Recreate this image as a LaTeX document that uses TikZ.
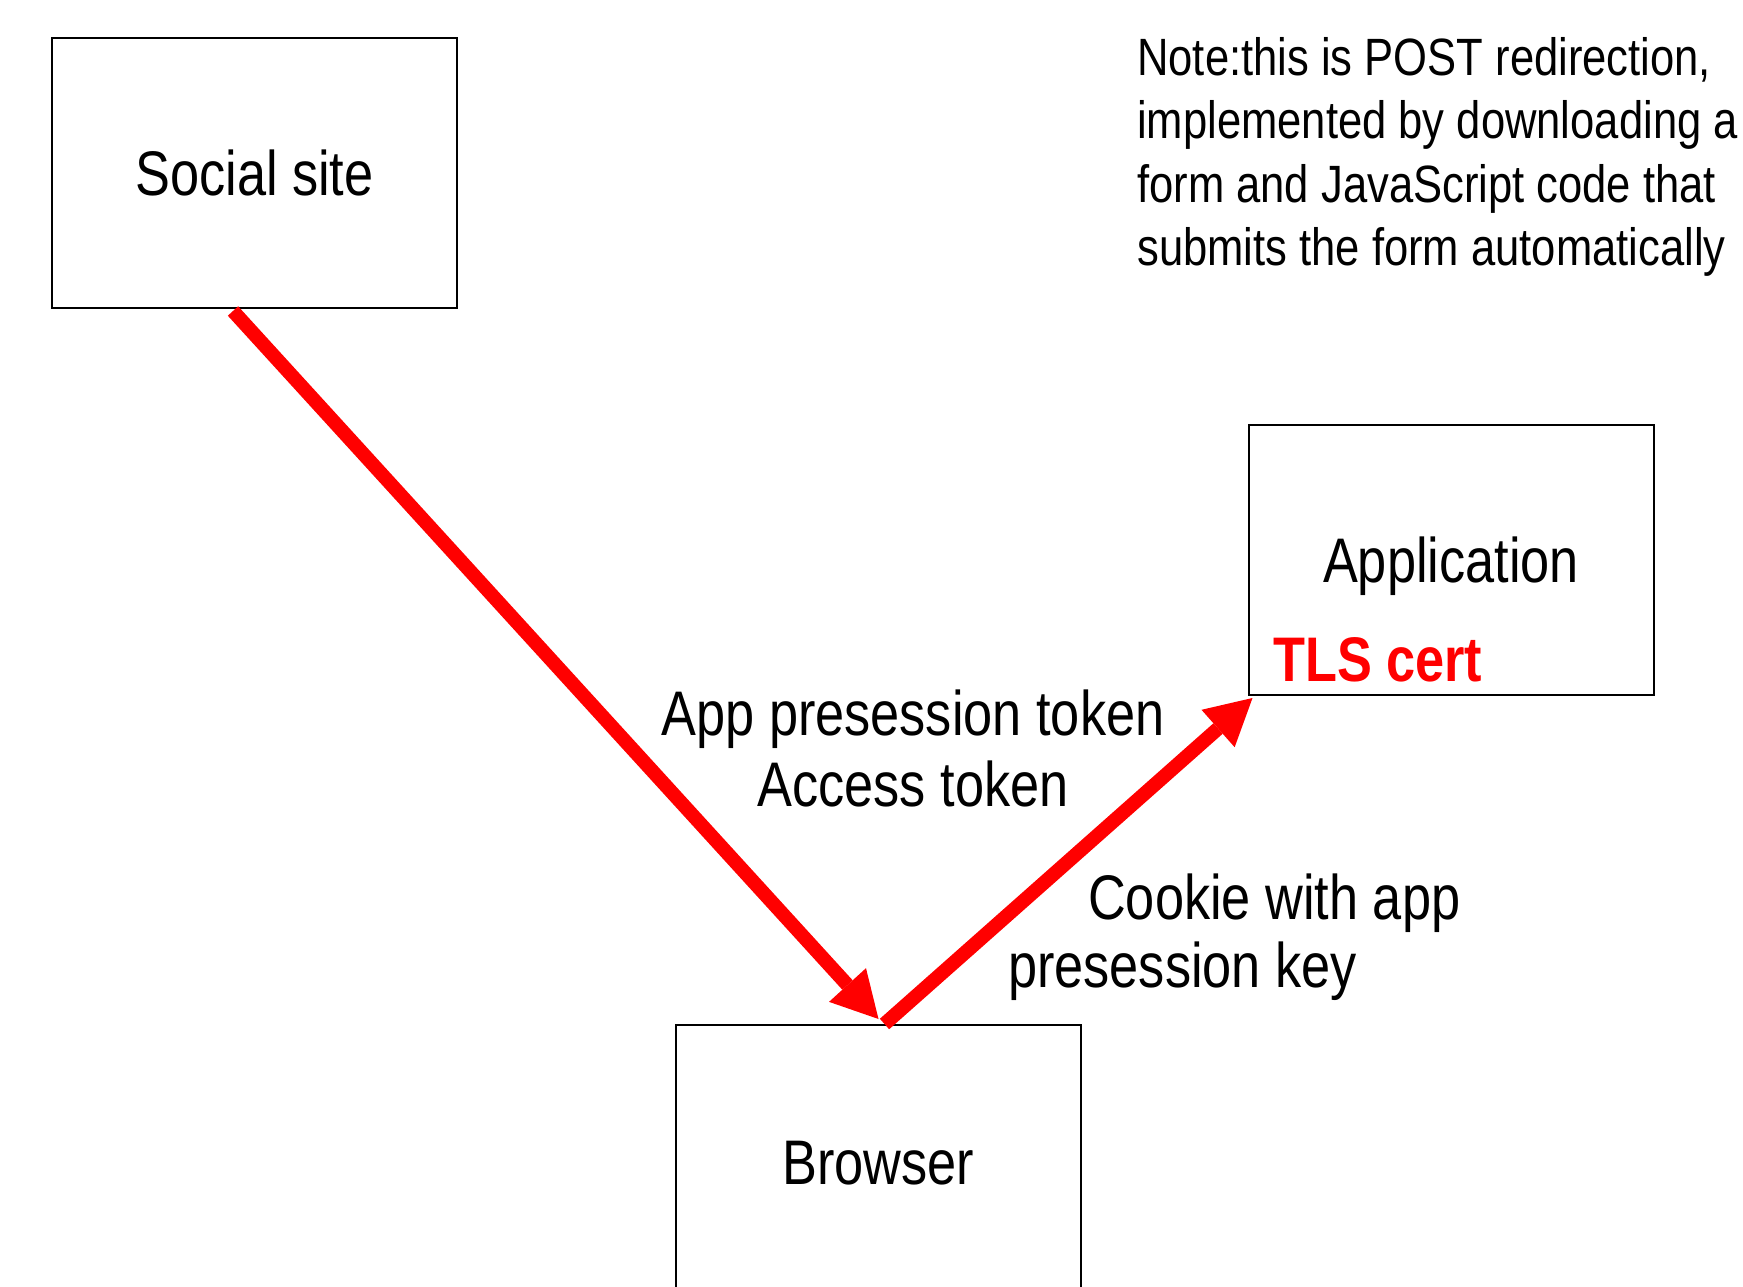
\documentclass[tikz,border=0pt]{standalone}
\usepackage{fontspec}
\setmainfont[FakeStretch=0.83]{Liberation Sans}
\usetikzlibrary{arrows.meta}
\begin{document}
\begin{tikzpicture}[x=1pt,y=-1pt,
  box/.style={draw=black, line width=2pt, minimum width=405pt, minimum height=270pt,
    inner sep=0pt, text depth=0pt, font=\fontsize{63}{72}\selectfont},
  lbl/.style={inner sep=0pt, font=\fontsize{63}{72}\selectfont},
  flow/.style={draw=red, line width=14pt,
    -{Triangle[length=46pt,width=50pt,line width=0pt]}}]
\clip (0,0) rectangle (1743,1287);
\fill[white] (0,0) rectangle (1743,1287);
\node[box] (social) at (254.5,173) {Social site};
\node[box] (app) at (1451,560) {Application};
\node[box] (browser) at (878.5,1160) {\raisebox{-5pt}{Browser}};
\node[lbl, anchor=base west, text=red, font=\fontsize{63}{72}\selectfont\bfseries] (tls) at (1273,681) {TLS cert};
\node[lbl, anchor=north, align=center, font=\fontsize{63}{71}\selectfont] (tokens) at (913,690) {App presession token\\Access token};
\node[lbl, anchor=north west, align=left, font=\fontsize{63}{68}\selectfont] (cookie) at (1008,874) {\hspace*{80pt}Cookie with app\\presession key};
\node[lbl, anchor=north west, align=left, font=\fontsize{52.5}{63.5}\selectfont] (note) at (1137,37) {Note:this is POST redirection,\\implemented by downloading a\\form and JavaScript code that\\submits the form automatically};
\draw[flow] ([xshift=-21.5pt,yshift=-2pt]social.south) -- ([yshift=5pt]browser.north);
\draw[flow] ([xshift=6pt]browser.north) -- ([xshift=5pt,yshift=-2pt]app.south west);
\end{tikzpicture}
\end{document}
